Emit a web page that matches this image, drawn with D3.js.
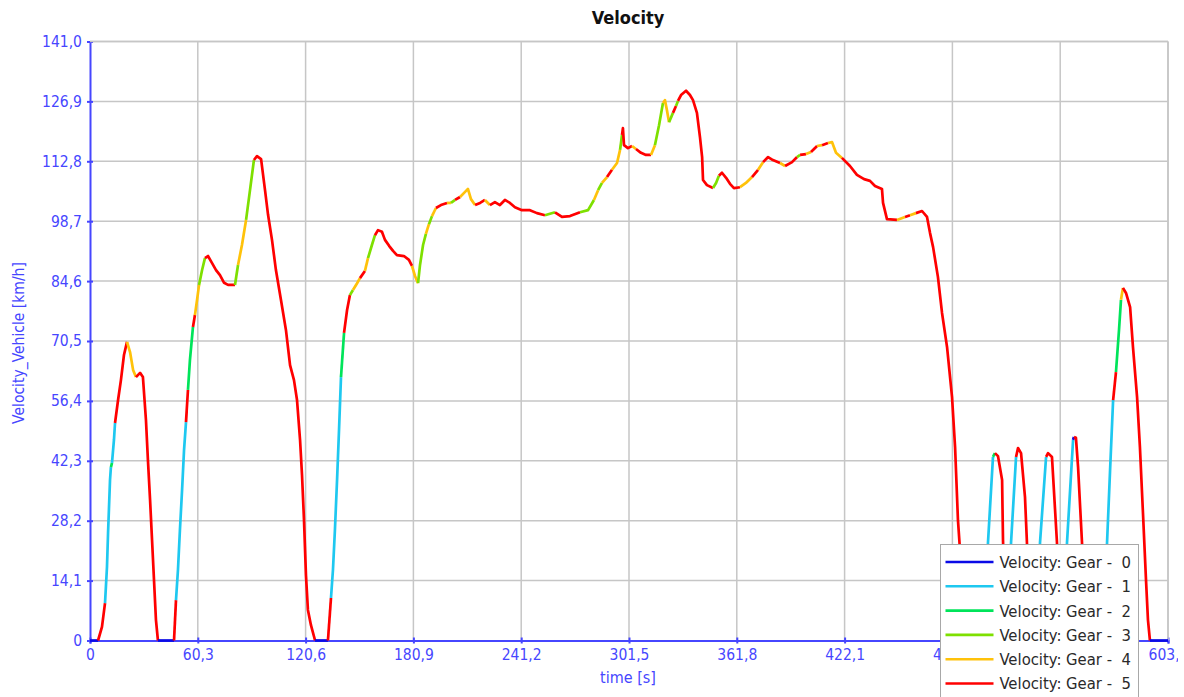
<!DOCTYPE html>
<html>
<head>
<meta charset="utf-8">
<script src="https://cdn.jsdelivr.net/npm/d3@7"></script>
<style>
  body { margin: 0; background: #fff; }
  text { font-family: "DejaVu Sans Condensed", "DejaVu Sans", sans-serif; }
</style>
</head>
<body>
<script>
const width = 1184;
const height = 697;

// time [s], velocity [km/h], gear of the segment that starts at the point
const timeS = [
  0, 4.5, 6.7, 8.4, 9.5, 10.1, 11.2, 11.7, 12.3, 13.4, 14.0, 15.7, 17.3, 19.0, 20.7, 22.4, 24.1, 25.7, 28.0, 29.6,
  31.3, 32.4, 33.6, 34.7, 35.8, 36.9, 38.0, 47.0, 48.1, 49.2, 50.3, 51.5, 52.6, 53.7, 54.8, 55.9, 57.6, 58.7, 59.9, 61.0,
  62.7, 64.3, 66.0, 68.2, 70.5, 72.7, 75.0, 77.2, 81.1, 82.8, 85.0, 87.3, 89.5, 91.7, 93.4, 95.7, 97.9, 99.6, 101.8, 104.0,
  106.8, 109.6, 111.9, 114.1, 115.8, 117.5, 118.6, 119.7, 120.8, 121.9, 123.6, 125.9, 133.1, 134.8, 135.9, 137.0, 138.2, 139.3, 140.4, 142.1,
  143.8, 145.4, 147.1, 149.4, 151.0, 153.8, 155.5, 157.7, 159.4, 161.1, 163.3, 165.0, 167.3, 169.5, 171.7, 175.6, 178.4, 180.1, 181.8, 183.5,
  184.6, 186.3, 187.9, 189.6, 191.3, 193.5, 196.3, 199.7, 201.9, 204.2, 207.0, 209.8, 211.4, 213.1, 215.4, 218.2, 220.9, 223.7, 226.5, 229.3,
  232.1, 234.9, 237.7, 241.6, 246.1, 250.0, 254.5, 260.1, 264.0, 268.5, 274.1, 278.6, 281.9, 284.2, 286.4, 289.2, 292.0, 294.8, 296.5, 297.6,
  298.1, 298.7, 300.9, 303.2, 305.4, 308.2, 311.0, 313.8, 316.0, 318.3, 320.5, 321.6, 322.7, 323.9, 326.1, 327.8, 328.9, 330.6, 333.4, 335.6,
  337.3, 339.5, 341.2, 342.4, 342.9, 345.1, 348.5, 350.2, 351.8, 353.5, 355.8, 358.0, 360.2, 363.6, 366.9, 370.3, 373.7, 376.5, 379.3, 382.0,
  386.0, 388.8, 392.7, 395.5, 397.2, 400.5, 403.3, 406.7, 409.5, 412.8, 415.1, 417.3, 420.6, 425.1, 429.0, 433.0, 436.3, 439.1, 443.0, 443.6,
  445.8, 451.4, 455.9, 458.7, 462.0, 465.4, 468.2, 469.9, 471.6, 474.3, 476.6, 479.4, 482.2, 483.9, 485.5, 487.8, 490.0, 500.1, 502.3, 505.1,
  506.2, 507.9, 510.2, 510.7, 512.4, 513.5, 515.2, 518.0, 519.1, 520.8, 523.0, 524.1, 525.8, 529.7, 531.4, 534.8, 535.9, 538.1, 540.9, 542.6,
  544.9, 546.5, 549.9, 550.4, 551.5, 552.7, 554.9, 556.6, 566.7, 568.9, 570.6, 572.3, 573.9, 575.6, 576.7, 577.8, 579.5, 581.8, 583.4, 585.7,
  587.3, 589.0, 590.7, 591.8, 592.9, 603
];
const speedKmh = [
  0, 0, 3.2, 8.8, 17.3, 25.3, 37.8, 40.8, 41.8, 47.2, 51.2, 56.6, 61.3, 67.2, 70.3, 67.9, 63.7, 62.0, 63.0, 62.0,
  51.9, 42.5, 33.1, 23.7, 14.2, 4.8, 0, 0, 9.5, 16.6, 26.0, 35.4, 44.8, 51.4, 59.0, 66.0, 73.8, 76.6, 80.2, 83.7,
  87.2, 90.0, 90.5, 88.9, 87.2, 86.0, 84.2, 83.7, 83.7, 88.4, 93.1, 99.0, 106.0, 113.1, 114.0, 113.3, 106.0, 100.2, 94.3, 87.2,
  80.2, 73.1, 64.8, 61.3, 56.6, 47.2, 38.9, 28.4, 15.4, 7.2, 3.6, 0, 0, 10.0, 16.6, 26.0, 37.8, 49.6, 62.0, 72.4,
  77.8, 81.3, 82.5, 84.1, 85.3, 87.0, 90.0, 93.1, 95.4, 96.6, 96.2, 94.3, 92.9, 91.7, 90.7, 90.5, 89.6, 88.2, 85.8, 84.1,
  88.4, 93.1, 95.7, 98.0, 99.9, 101.8, 102.5, 103.0, 103.0, 103.7, 104.4, 105.6, 106.3, 103.9, 102.5, 103.0, 103.7, 102.5, 103.2, 102.5,
  103.7, 103.0, 102.0, 101.3, 101.3, 100.6, 100.1, 100.8, 99.7, 99.9, 100.8, 101.3, 103.7, 106.0, 107.7, 109.1, 110.8, 112.4, 115.5, 119.0,
  120.6, 116.6, 115.9, 116.4, 115.7, 114.8, 114.3, 114.3, 116.6, 121.3, 126.5, 127.2, 124.9, 122.0, 124.2, 125.8, 127.0, 128.4, 129.4, 128.4,
  127.2, 124.2, 118.5, 113.8, 108.4, 107.2, 106.5, 107.7, 109.4, 110.1, 108.9, 107.5, 106.5, 106.7, 107.7, 109.1, 110.8, 112.6, 113.8, 113.1,
  112.4, 111.7, 112.6, 113.8, 114.3, 114.5, 115.0, 116.4, 116.6, 117.1, 117.3, 114.8, 113.6, 111.7, 109.6, 108.6, 108.2, 107.0, 106.3, 103.0,
  99.2, 99.0, 99.7, 100.1, 100.6, 101.1, 99.7, 95.9, 92.6, 85.6, 77.1, 69.1, 57.3, 45.5, 28.4, 14.2, 0, 0, 23.0, 43.2,
  44.1, 43.4, 37.8, 23.7, 0, 0, 23.0, 43.2, 45.3, 44.1, 33.8, 23.0, 0, 0, 23.0, 43.2, 44.1, 43.2, 23.0, 0,
  0, 23.0, 47.2, 47.9, 47.7, 40.8, 23.0, 0, 0, 23.0, 40.1, 56.6, 63.2, 73.1, 80.2, 83.0, 81.8, 78.5, 69.1, 57.3,
  45.5, 30.0, 14.2, 4.8, 0, 0
];
const gearIdx = [
  0, 5, 5, 1, 1, 1, 1, 2, 1, 1, 5, 5, 5, 5, 4, 4, 4, 5, 5, 5,
  5, 5, 5, 5, 5, 5, 0, 5, 1, 1, 1, 1, 1, 5, 2, 2, 5, 4, 4, 3,
  3, 5, 5, 5, 5, 5, 5, 5, 3, 4, 4, 3, 3, 5, 5, 5, 5, 5, 5, 5,
  5, 5, 5, 5, 5, 5, 5, 5, 5, 5, 5, 0, 5, 1, 1, 1, 1, 1, 2, 5,
  5, 3, 4, 4, 5, 4, 3, 3, 5, 5, 5, 5, 5, 5, 5, 5, 5, 4, 4, 3,
  3, 3, 4, 3, 4, 5, 5, 4, 3, 5, 4, 4, 4, 4, 5, 5, 4, 5, 5, 5,
  5, 5, 5, 5, 5, 5, 3, 5, 5, 5, 3, 3, 4, 3, 4, 5, 4, 4, 3, 5,
  5, 5, 5, 4, 5, 5, 5, 4, 3, 3, 4, 4, 4, 3, 5, 3, 5, 5, 5, 5,
  5, 5, 5, 5, 5, 5, 3, 3, 5, 5, 5, 5, 5, 4, 4, 5, 4, 5, 5, 5,
  4, 5, 5, 3, 5, 4, 5, 4, 5, 4, 4, 4, 5, 5, 5, 5, 5, 5, 5, 5,
  5, 4, 5, 4, 5, 5, 5, 5, 5, 5, 5, 5, 5, 5, 5, 5, 0, 1, 1, 2,
  5, 5, 5, 5, 0, 1, 1, 5, 5, 5, 5, 5, 0, 1, 1, 5, 5, 5, 5, 0,
  1, 1, 0, 5, 5, 5, 5, 0, 1, 1, 1, 5, 2, 2, 4, 5, 5, 5, 5, 5,
  5, 5, 5, 5, 0, 0
];

const gearLabels = ["Velocity: Gear -  0", "Velocity: Gear -  1", "Velocity: Gear -  2",
  "Velocity: Gear -  3", "Velocity: Gear -  4", "Velocity: Gear -  5"];
const gearColors = ["#0a0ae6", "#1ec8f0", "#00e45a", "#7ee000", "#ffc20a", "#ff0000"];

const xTicks = [0, 60.3, 120.6, 180.9, 241.2, 301.5, 361.8, 422.1, 482.4, 542.7, 603];
const yTicks = [0, 14.1, 28.2, 42.3, 56.4, 70.5, 84.6, 98.7, 112.8, 126.9, 141];

const axisBlue = "#4646ff";
const fmt = (d) => (d === 0 ? "0" : d.toFixed(1).replace(".", ","));

const x = d3.scaleLinear().domain([0, 603]).range([90, 1168]);
const y = d3.scaleLinear().domain([0, 141]).range([640.5, 41.5]);

const svg = d3
  .select("body")
  .append("svg")
  .attr("width", width)
  .attr("height", height);

// the last x label is cut at the right edge, as in the source
svg.append("clipPath").attr("id", "clipx")
  .append("rect").attr("x", 0).attr("y", 0).attr("width", 1178).attr("height", height);

// grid
svg.append("g")
  .selectAll("line")
  .data(xTicks.slice(1))
  .join("line")
  .attr("x1", (d) => x(d)).attr("x2", (d) => x(d))
  .attr("y1", y(141)).attr("y2", y(0))
  .attr("stroke", "#c6c6c6").attr("stroke-width", 1.5);

svg.append("g")
  .selectAll("line")
  .data(yTicks.slice(1))
  .join("line")
  .attr("x1", x(0)).attr("x2", x(603))
  .attr("y1", (d) => y(d)).attr("y2", (d) => y(d))
  .attr("stroke", "#c6c6c6").attr("stroke-width", 1.5);

// axes
const yAxis = (g) =>
  g.attr("transform", `translate(${x(0)},0)`)
    .call(d3.axisLeft(y).tickValues(yTicks).tickFormat(fmt).tickSizeOuter(0).tickSize(3).tickPadding(5))
    .call((g) => g.select(".domain").attr("stroke", axisBlue).attr("stroke-width", 2))
    .call((g) => g.selectAll(".tick line").attr("x1", -3).attr("x2", 3).attr("stroke", axisBlue).attr("stroke-width", 2))
    .call((g) => g.selectAll(".tick text").attr("fill", axisBlue).attr("font-size", 15.5)
      .attr("font-family", "DejaVu Sans Condensed"));

const xAxis = (g) =>
  g.attr("transform", `translate(0,${y(0)})`)
    .call(d3.axisBottom(x).tickValues(xTicks).tickFormat(fmt).tickSizeOuter(0).tickSize(3).tickPadding(5))
    .call((g) => g.select(".domain").attr("stroke", axisBlue).attr("stroke-width", 2))
    .call((g) => g.selectAll(".tick line").attr("y1", -3).attr("y2", 3).attr("stroke", axisBlue).attr("stroke-width", 2))
    .call((g) => g.selectAll(".tick text").attr("fill", axisBlue).attr("font-size", 15.5)
      .attr("font-family", "DejaVu Sans Condensed"));

svg.append("g").call(yAxis);
svg.append("g").attr("clip-path", "url(#clipx)").append("g").call(xAxis);

// top and right frame
svg.append("line").attr("x1", x(0)).attr("x2", x(603)).attr("y1", y(141)).attr("y2", y(141))
  .attr("stroke", "#c6c6c6").attr("stroke-width", 1.5);
svg.append("line").attr("x1", x(603)).attr("x2", x(603)).attr("y1", y(141)).attr("y2", y(0))
  .attr("stroke", "#c6c6c6").attr("stroke-width", 1.5);

// velocity trace, split into runs of equal gear
const points = timeS.map((t, i) => ({ t, v: speedKmh[i], g: gearIdx[i] }));
const runs = [];
for (let i = 0; i < points.length - 1; i++) {
  const last = runs[runs.length - 1];
  if (last && last.g === points[i].g) last.pts.push(points[i + 1]);
  else runs.push({ g: points[i].g, pts: [points[i], points[i + 1]] });
}

const line = d3.line().x((d) => x(d.t)).y((d) => y(d.v));

svg.append("g")
  .selectAll("path")
  .data(runs)
  .join("path")
  .attr("d", (d) => line(d.pts))
  .attr("fill", "none")
  .attr("stroke", (d) => gearColors[d.g])
  .attr("stroke-width", 2.7)
  .attr("stroke-linejoin", "round");

// titles
svg.append("text")
  .attr("x", 628).attr("y", 24)
  .attr("text-anchor", "middle")
  .attr("font-size", 18).attr("font-weight", "bold")
  .attr("fill", "#111")
  .text("Velocity");

svg.append("text")
  .attr("x", 628).attr("y", 683)
  .attr("text-anchor", "middle")
  .attr("font-size", 16)
  .attr("fill", axisBlue)
  .text("time [s]");

svg.append("text")
  .attr("transform", "translate(24,343) rotate(-90)")
  .attr("text-anchor", "middle")
  .attr("font-size", 15.5)
  .attr("fill", axisBlue)
  .text("Velocity_Vehicle [km/h]");

// legend
const legend = svg.append("g").attr("transform", "translate(940.5,544.5)");

legend.append("rect")
  .attr("width", 198).attr("height", 160)
  .attr("fill", "#fff")
  .attr("stroke", "#a8a8a8");

const item = legend.selectAll("g")
  .data(gearLabels)
  .join("g")
  .attr("transform", (d, i) => `translate(0,${17.5 + i * 24.3})`);

item.append("line")
  .attr("x1", 5).attr("x2", 53)
  .attr("stroke", (d, i) => gearColors[i])
  .attr("stroke-width", 2.6);

item.append("text")
  .attr("x", 59).attr("dy", "0.36em")
  .attr("font-size", 16.5)
  .attr("fill", "#2a2a2a")
  .style("white-space", "pre")
  .text((d) => d);
</script>
</body>
</html>
